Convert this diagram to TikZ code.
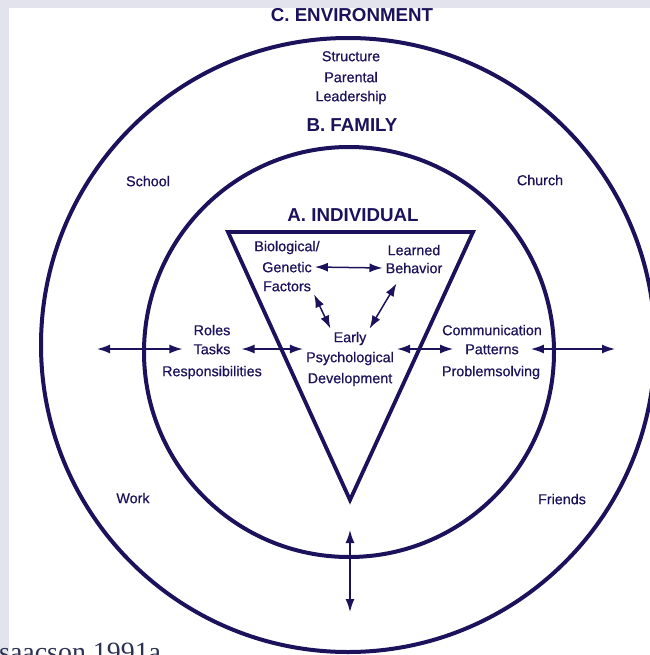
\documentclass[tikz,border=0pt]{standalone}
\usepackage{fontspec}
\setmainfont{Liberation Sans}
\newfontfamily\labelfont[FakeBold=0.6]{Liberation Sans}
\newfontfamily\citefont{Liberation Serif}
\usetikzlibrary{arrows.meta}
\definecolor{navy}{RGB}{28,18,92}
\definecolor{bandgray}{RGB}{226,227,236}
\definecolor{citegray}{RGB}{45,50,80}
\tikzset{
	lbl/.style={text=navy, font=\labelfont\fontsize{14.4}{17}\selectfont, inner sep=3bp, text height=10.4bp, text depth=0bp},
	heading/.style={text=navy, font=\bfseries\fontsize{18.8}{22}\selectfont, inner sep=2bp},
	ring/.style={draw=navy, line width=4bp},
	dbl/.style={draw=navy, line width=1.5bp, {Latex[length=13bp,width=9bp]}-{Latex[length=13bp,width=9bp]}}
}
\begin{document}
\begin{tikzpicture}[x=1bp, y=-1bp]
		
		\useasboundingbox (0,0) rectangle (650,655);
		\clip (0,0) rectangle (650,655);
		
		%Page background
		\fill[white] (0,0) rectangle (650,655);
		\fill[bandgray] (0,0) rectangle (650,8);
		\fill[bandgray] (0,0) rectangle (9,655);
		
		%Rings and triangle
		\draw[ring] (348,345) circle[radius=307];
		\draw[ring] (349,352) circle[radius=205];
		
		\coordinate (topLeft) at (228,232);
		\coordinate (topRight) at (473,232);
		\coordinate (apex) at (350,500);
		\draw[navy, line width=3.8bp, line join=miter] (topLeft) -- (topRight) -- (apex) -- cycle;
		
		%Headings
		\node (environment) at (352,15) [heading] {C. ENVIRONMENT};
		\node (family) at (352,125) [heading] {B. FAMILY};
		\node (individual) at (353,215) [heading] {A. INDIVIDUAL};
		
		%Labels of the environment
		\node (structure) at (351,56) [lbl] {Structure};
		\node (parental) at (351,77) [lbl] {Parental};
		\node (leadership) at (351,96) [lbl] {Leadership};
		\node (school) at (148,181) [lbl] {School};
		\node (church) at (540,180) [lbl] {Church};
		\node (work) at (133,498) [lbl] {Work};
		\node (friends) at (562,499) [lbl] {Friends};
		
		%Labels of the family
		\node (roles) at (212,330) [lbl] {Roles};
		\node (tasks) at (212,349) [lbl, inner xsep=11bp] {Tasks};
		\node (resp) at (212,371) [lbl] {Responsibilities};
		
		\node (comm) at (492,330) [lbl] {Communication};
		\node (patterns) at (492,349) [lbl, inner xsep=12bp] {Patterns};
		\node (problem) at (491,371) [lbl] {Problemsolving};
		
		%Labels of the individual
		\node (bio) at (287,246) [lbl] {Biological/};
		\node (genetic) at (287,267) [lbl] {Genetic};
		\node (factors) at (287,286) [lbl] {Factors};
		
		\node (learned) at (414,250) [lbl] {Learned};
		\node (behavior) at (414,268) [lbl] {Behavior};
		
		\node (early) at (350,337) [lbl] {Early};
		\node (psych) at (350,357) [lbl] {Psychological};
		\node (devel) at (350,378) [lbl] {Development};
		
		%Links inside the triangle
		\draw[dbl] (genetic.east) -- (behavior.west);
		\draw[dbl] (early.north west) -- (factors.south east);
		\draw[dbl] (early.north east) -- ([xshift=14bp,yshift=-7bp]behavior.south west);
		
		%Links across the rings
		\coordinate (westEnd) at (97,349);
		\coordinate (eastEnd) at (615,349);
		\coordinate (southEnd) at (350,612);
		
		\draw[dbl] (westEnd) -- (tasks.west);
		\draw[dbl] (tasks.east) -- (tasks.east -| psych.west);
		\draw[dbl] (patterns.west -| psych.east) -- (patterns.west);
		\draw[dbl] (patterns.east) -- (eastEnd);
		\draw[dbl] ([yshift=-30bp]apex) -- (southEnd);
		
		%Source
		\node (source) at (-1,661) [anchor=base west, inner sep=0pt, text=citegray, font=\citefont\fontsize{28}{30}\selectfont] {saacson 1991a};
		
\end{tikzpicture}
\end{document}
